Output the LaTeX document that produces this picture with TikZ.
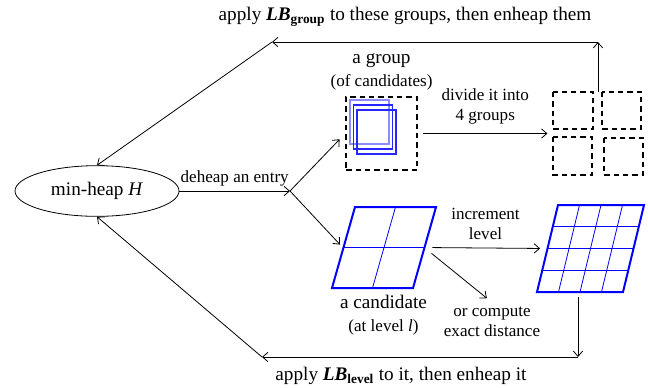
\documentclass[tikz,border=0pt]{standalone}
\usepackage{fontspec}
\setmainfont{Liberation Serif}
\usetikzlibrary{arrows.meta, positioning, calc, shapes.geometric}

\newcommand{\LBsub}[1]{\textbf{\textit{LB}}\textsubscript{\textbf{#1}}}

\begin{document}
\begin{tikzpicture}[x=0.75pt, y=-0.75pt,
    big/.style={font=\fontsize{14.4}{17}\selectfont, align=center},
    small/.style={font=\fontsize{12.8}{15}\selectfont, align=center},
    arr/.style={-{Straight Barb[length=4pt, width=7pt]}, line width=0.6pt},
    gbox/.style={draw, line width=1.5pt, dash pattern=on 4pt off 3pt},
    rim/.style={draw=blue, line width=1.5pt},
    cell/.style={draw=blue, line width=0.6pt},
  ]
    \useasboundingbox (0,0) rectangle (648,387);

    % heap and the split point
    \node[draw, ellipse, line width=0.6pt, minimum width=123pt,
          minimum height=38pt, big] (heap) at (97,191) {min-heap \textit{H}};
    \coordinate (split) at (290,191);

    % a group of candidates
    \node[gbox, minimum width=53pt, minimum height=55pt] (grp) at (381.5,133.5) {};
    \node[big, above=1pt of grp] (grplbl)
      {a group\\{\fontsize{12.8}{15}\selectfont (of candidates)}};
    \draw[blue!45, line width=1pt] (350,100) rectangle +(39,44);
    \foreach \d in {1,2}
      \draw[blue!85, line width=1pt] ($(350,100)+(3.5*\d,5*\d)$) rectangle +(39,44);

    % four groups
    \node[minimum width=67.5pt, minimum height=62pt] (quad) at (598,133.5) {};
    \draw[gbox] (553,92) rectangle (593,129);
    \draw[gbox] (602,92) rectangle (641,129);
    \draw[gbox] (553,137) rectangle (592,175);
    \draw[gbox] (604,138) rectangle (643,175);

    % a candidate (2x2)
    \node[minimum width=60.75pt, minimum height=60.75pt] (cand) at (383.5,247.5) {};
    \draw[rim] (332,288) -- ++(81,0) -- ++(23,-81) -- ++(-81,0) -- cycle;
    \draw[cell] (372.5,288) -- ++(23,-81);
    \draw[cell] (343.5,247.5) -- ++(81,0);
    \node[big, below=2pt of cand] (candlbl)
      {a candidate\\{\fontsize{12.8}{15}\selectfont (at level \textit{l})}};

    % the next level (4x4)
    \node[minimum width=66pt, minimum height=65pt] (fine) at (591,248.5) {};
    \draw[rim] (537,292) -- ++(86,0) -- ++(21,-87) -- ++(-86,0) -- cycle;
    \foreach \k in {1,2,3} {
      \draw[cell] ({537+21.5*\k},292) -- ++(21,-87);
      \draw[cell] ({537+5.25*\k},{292-21.75*\k}) -- ++(86,0);
    }

    \node[small] (exact) at (492,322) {or compute\\exact distance};

    % corners of the two loops
    \coordinate (ne) at (598,42);
    \coordinate (nw) at (272,42);
    \coordinate (se) at (578,357);
    \coordinate (sw) at (262,357);

    \draw[arr] (heap) -- (split) node[midway, above, small] {deheap an entry};
    \draw[arr, shorten >=6pt] (split) -- (grp.west);
    \draw[arr, shorten >=3pt] (split) -- (cand.west);
    \draw[arr, shorten <=4pt, shorten >=4pt] (grp.east) -- (quad.west)
      node[midway, above=3pt, small] {divide it into\\4 groups};
    \draw[arr, shorten <=6pt, shorten >=5pt] (cand.east) -- (fine.west)
      node[midway, above=3pt, small] {increment\\level};
    \draw[arr, shorten <=7pt, shorten >=5pt] (cand.east) -- (exact.north);

    % back to the heap
    \draw[arr] (quad.north) -- (ne);
    \draw[arr] (ne) -- (nw);
    \draw[arr] (nw) -- (heap.north);
    \node[big] (toplbl) at (405,17)
      {apply \LBsub{group} to these groups, then enheap them};

    \draw[arr, shorten <=4pt] (fine.south -| se) -- (se);
    \draw[arr] (se) -- (sw);
    \draw[arr] (sw) -- (heap.south);
    \node[big] (botlbl) at (401,376)
      {apply \LBsub{level} to it, then enheap it};
\end{tikzpicture}
\end{document}
